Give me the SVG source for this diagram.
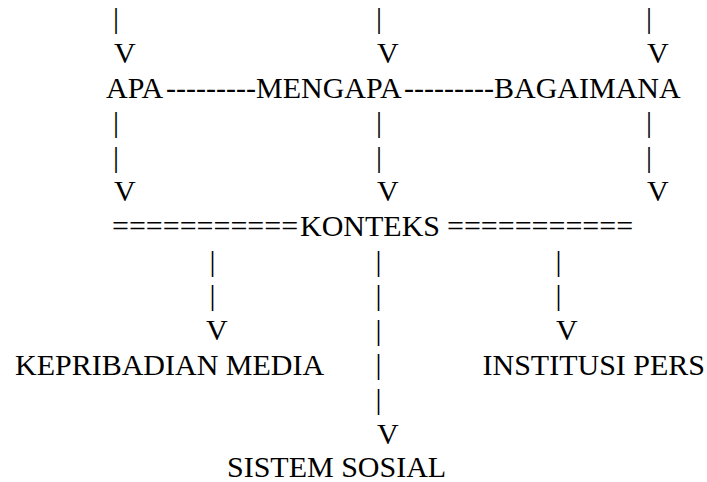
<svg xmlns="http://www.w3.org/2000/svg" width="707" height="482" viewBox="0 0 707 482">
<style>
text{font-family:"Liberation Serif","Times New Roman",serif;font-size:30px;fill:#000}
</style>
<rect width="707" height="482" fill="#fff"/>
<g id="connectors">
<text x="113" y="28.4">|</text><text x="376" y="28.4">|</text><text x="646" y="28.4">|</text>
<text x="114" y="63">V</text><text x="377" y="63">V</text><text x="647" y="63">V</text>
<text x="166" y="97.6">---------</text>
<text x="404" y="97.6">---------</text>
<text x="113" y="132.2">|</text><text x="376" y="132.2">|</text><text x="646" y="132.2">|</text>
<text x="113" y="166.8">|</text><text x="376" y="166.8">|</text><text x="646" y="166.8">|</text>
<text x="114" y="201.4">V</text><text x="377" y="201.4">V</text><text x="647" y="201.4">V</text>
<text x="112" y="236">===========</text>
<text x="447" y="236">===========</text>
<text x="209.5" y="270.6">|</text><text x="375.5" y="270.6">|</text><text x="555.5" y="270.6">|</text>
<text x="209.5" y="305.2">|</text><text x="375.5" y="305.2">|</text><text x="555.5" y="305.2">|</text>
<text x="206" y="339.8">V</text><text x="375.5" y="339.8">|</text><text x="556" y="339.8">V</text>
<text x="375.5" y="374.4">|</text>
<text x="375.5" y="409">|</text>
<text x="377" y="443.6">V</text>
</g>
<g id="apa"><text x="106" y="97.6">APA</text></g>
<g id="mengapa"><text x="256" y="97.6">MENGAPA</text></g>
<g id="bagaimana"><text x="494" y="97.6">BAGAIMANA</text></g>
<g id="konteks"><text x="300" y="236">KONTEKS</text></g>
<g id="kepribadian-media"><text x="15" y="374.6">KEPRIBADIAN MEDIA</text></g>
<g id="institusi-pers"><text x="482.5" y="374.6">INSTITUSI PERS</text></g>
<g id="sistem-sosial"><text x="227" y="477">SISTEM SOSIAL</text></g>
</svg>
